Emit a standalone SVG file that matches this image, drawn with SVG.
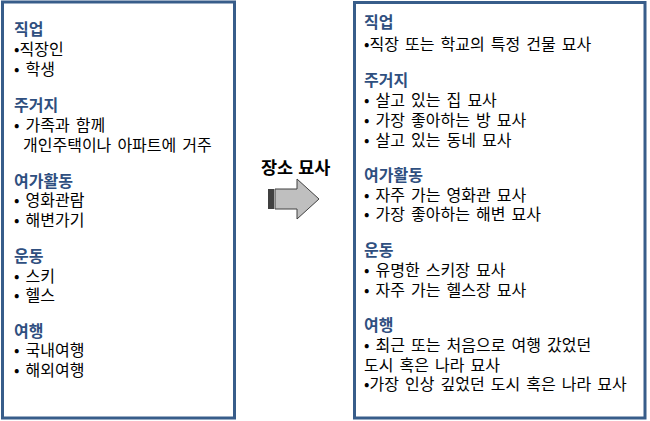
<svg xmlns="http://www.w3.org/2000/svg" width="650" height="421" viewBox="0 0 650 421">
<style>
.box{fill:#ffffff;stroke:#385D8A;stroke-width:3}
text{font-family:"Noto Sans CJK KR","Noto Sans",sans-serif;font-size:16px;fill:#000000;word-spacing:2.5px}
.h{fill:#2F4F7F;font-weight:bold}
.t{font-weight:bold;font-size:17.5px;word-spacing:1px}
</style>
<rect width="650" height="421" fill="#ffffff"/>
<g id="left-box">
<rect class="box" x="2.5" y="2" width="232" height="416"/>
<text class="h" x="14" y="35">직업</text>
<text x="14" y="55">•직장인</text>
<text x="14" y="75">• 학생</text>
<text class="h" x="14" y="111">주거지</text>
<text x="14" y="131">• 가족과 함께</text>
<text x="23" y="151">개인주택이나 아파트에 거주</text>
<text class="h" x="14" y="187">여가활동</text>
<text x="14" y="206">• 영화관람</text>
<text x="14" y="226">• 해변가기</text>
<text class="h" x="14" y="262">운동</text>
<text x="14" y="282">• 스키</text>
<text x="14" y="301">• 헬스</text>
<text class="h" x="14" y="337">여행</text>
<text x="14" y="356">• 국내여행</text>
<text x="14" y="376">• 해외여행</text>
</g>
<g id="arrow">
<text class="t" x="261" y="174">장소 묘사</text>
<rect x="268" y="189" width="6" height="20" fill="#404040"/>
<polygon points="275,189 297,189 297,179 319,199 297,219 297,209 275,209" fill="#BFBFBF" stroke="#404040" stroke-width="1"/>
</g>
<g id="right-box">
<rect class="box" x="354.5" y="2.5" width="290.5" height="415.5"/>
<text class="h" x="364" y="28">직업</text>
<text x="364" y="50">•직장 또는 학교의 특정 건물 묘사</text>
<text class="h" x="364" y="86">주거지</text>
<text x="364" y="106">• 살고 있는 집 묘사</text>
<text x="364" y="126">• 가장 좋아하는 방 묘사</text>
<text x="364" y="146">• 살고 있는 동네 묘사</text>
<text class="h" x="364" y="181">여가활동</text>
<text x="364" y="201">• 자주 가는 영화관 묘사</text>
<text x="364" y="220">• 가장 좋아하는 해변 묘사</text>
<text class="h" x="364" y="256">운동</text>
<text x="364" y="276">• 유명한 스키장 묘사</text>
<text x="364" y="296">• 자주 가는 헬스장 묘사</text>
<text class="h" x="364" y="331">여행</text>
<text x="364" y="351">• 최근 또는 처음으로 여행 갔었던</text>
<text x="364" y="371">도시 혹은 나라 묘사</text>
<text x="364" y="390">•가장 인상 깊었던 도시 혹은 나라 묘사</text>
</g>
</svg>
